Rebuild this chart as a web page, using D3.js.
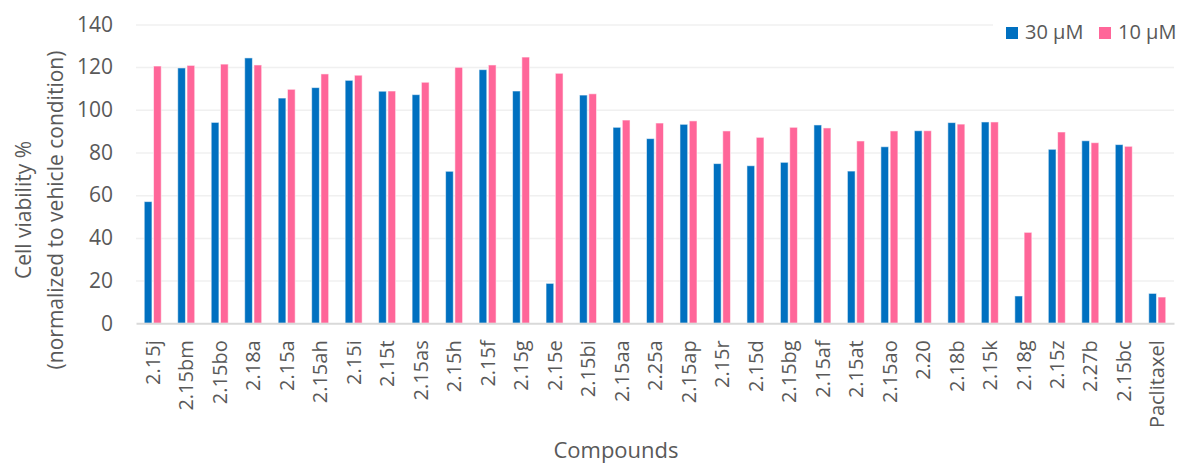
<!DOCTYPE html>
<html>
<head>
<meta charset="utf-8">
<script src="https://cdn.jsdelivr.net/npm/d3@7"></script>
<style>
  body { margin: 0; background: #fff; }
  text { font-family: "Open Sans", sans-serif; fill: #595959; }
</style>
</head>
<body>
<svg id="chart" width="1183" height="464"></svg>
<script>
const compounds = ["2.15j", "2.15bm", "2.15bo", "2.18a", "2.15a", "2.15ah", "2.15i", "2.15t",
  "2.15as", "2.15h", "2.15f", "2.15g", "2.15e", "2.15bi", "2.15aa", "2.25a", "2.15ap", "2.15r",
  "2.15d", "2.15bg", "2.15af", "2.15at", "2.15ao", "2.20", "2.18b", "2.15k", "2.18g", "2.15z",
  "2.27b", "2.15bc", "Paclitaxel"];
const viability30 = [57, 119.6, 94.1, 124.3, 105.5, 110.4, 113.8, 108.7, 107.1, 71.2, 118.8, 108.8,
  18.7, 106.9, 91.8, 86.5, 93.2, 74.8, 73.8, 75.4, 92.9, 71.3, 82.7, 90.2, 94, 94.3, 12.8, 81.5,
  85.5, 83.7, 14];
const viability10 = [120.5, 120.8, 121.4, 121, 109.6, 116.8, 116.2, 108.8, 112.9, 119.9, 121, 124.7,
  117.1, 107.5, 95.2, 93.8, 94.8, 90.1, 87.1, 91.8, 91.5, 85.4, 90.1, 90.2, 93.3, 94.3, 42.6, 89.6,
  84.6, 82.9, 12.3];
const seriesNames = ["30 µM", "10 µM"];
const seriesColors = ["#0070C0", "#FF6699"];
const yTicks = [0, 20, 40, 60, 80, 100, 120, 140];

const svg = d3.select("#chart");

const plotLeft = 136, plotRight = 1174, plotTop = 24.4, plotBottom = 323.3;

const x0 = d3.scaleBand().domain(compounds).range([plotLeft, plotRight]);
const pairW = 17;
const x1 = d3.scaleBand().domain(seriesNames).range([0, pairW]).paddingInner(0.17);
const y = d3.scaleLinear().domain([0, 140]).range([plotBottom, plotTop]);

// y axis + gridlines
const yAxis = svg.append("g")
    .attr("transform", `translate(${plotLeft},0)`)
    .call(d3.axisLeft(y).tickValues(yTicks).tickSize(-(plotRight - plotLeft)).tickPadding(23));
yAxis.select(".domain").remove();
yAxis.selectAll(".tick line")
    .attr("stroke", "#F0F0F0")
    .attr("stroke-width", 1.5)
    .attr("display", d => d === 0 ? "none" : null);
yAxis.selectAll(".tick text")
    .style("font-size", "21px")
    .attr("fill", "#595959");

// bars
const rows = compounds.map((c, i) => ({ name: c, values: [viability30[i], viability10[i]] }));
const group = svg.append("g")
    .selectAll("g")
    .data(rows)
    .enter()
    .append("g")
    .attr("transform", d => `translate(${x0(d.name) + (x0.bandwidth() - pairW) / 2},0)`);

group.selectAll("rect")
    .data(d => d.values.map((v, k) => ({ key: seriesNames[k], value: v, k: k })))
    .enter()
    .append("rect")
    .attr("x", d => x1(d.key))
    .attr("y", d => y(d.value))
    .attr("width", x1.bandwidth())
    .attr("height", d => y(0) - y(d.value))
    .attr("fill", d => seriesColors[d.k])
    .attr("stroke", "#fff")
    .attr("stroke-opacity", 0.55)
    .attr("stroke-width", 1);

// x axis
const xAxis = svg.append("g")
    .attr("transform", `translate(0,${plotBottom})`)
    .call(d3.axisBottom(x0).tickSize(0));
xAxis.select(".domain")
    .attr("stroke", "#D9D9D9")
    .attr("stroke-width", 2);
xAxis.selectAll(".tick text")
    .attr("transform", "rotate(-90)")
    .attr("x", -17)
    .attr("y", 0)
    .attr("dy", "0.36em")
    .style("text-anchor", "end")
    .style("font-size", "20px")
    .attr("fill", "#595959");

// axis titles
svg.append("text")
    .attr("transform", "translate(31,210) rotate(-90)")
    .attr("text-anchor", "middle")
    .style("font-size", "21px")
    .text("Cell viability %");
svg.append("text")
    .attr("transform", "translate(63,210) rotate(-90)")
    .attr("text-anchor", "middle")
    .style("font-size", "21px")
    .text("(normalized to vehicle condition)");

svg.append("text")
    .attr("x", 616)
    .attr("y", 458)
    .attr("text-anchor", "middle")
    .style("font-size", "22px")
    .text("Compounds");

// legend
const legend = svg.append("g");
legend.append("rect")
    .attr("x", 993).attr("y", 12).attr("width", 190).attr("height", 36)
    .attr("fill", "#fff");
const legendX = [1006, 1099];
seriesNames.forEach((s, i) => {
  legend.append("rect")
      .attr("x", legendX[i]).attr("y", 27)
      .attr("width", 12).attr("height", 12)
      .attr("fill", seriesColors[i]);
  legend.append("text")
      .attr("x", legendX[i] + 19).attr("y", 39)
      .style("font-size", "20px")
      .text(s);
});
</script>
</body>
</html>
